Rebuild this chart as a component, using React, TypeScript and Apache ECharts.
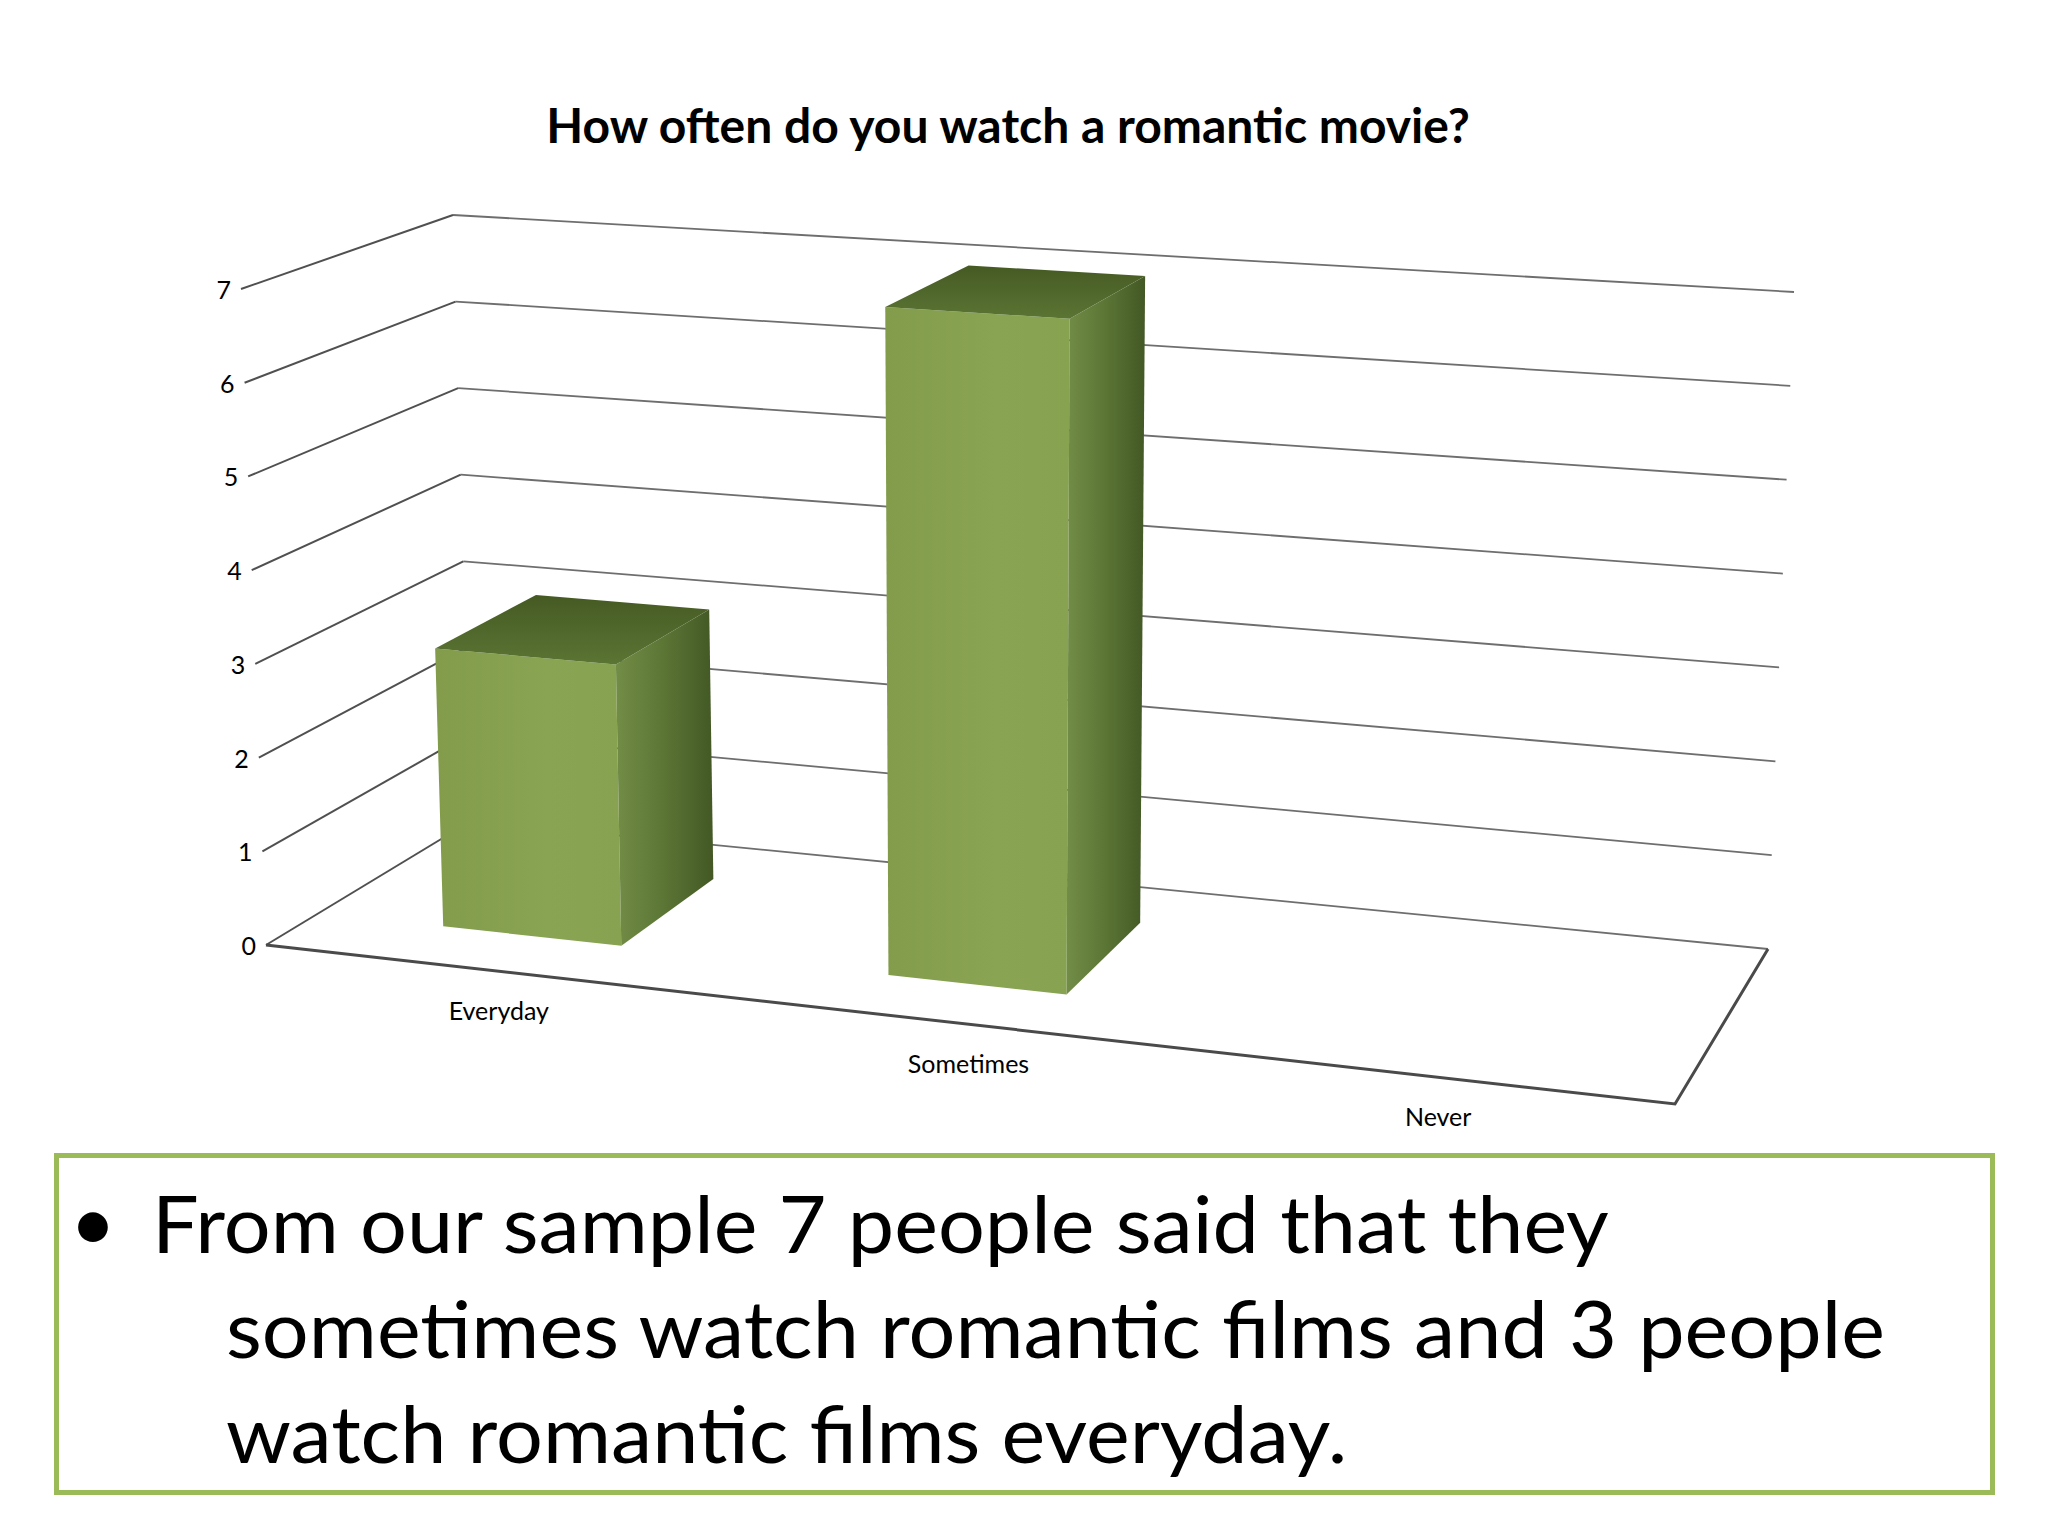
import React, { useEffect, useRef } from 'react';
import * as echarts from 'echarts';

// chart data
const CATEGORIES = ['Everyday', 'Sometimes', 'Never'];
const VALUES = [3, 7, 0];
const Y_TICKS = [0, 1, 2, 3, 4, 5, 6, 7];
const Y_MAX = 7;
const TITLE = 'How often do you watch a romantic movie?';
const NOTE_LINES = [
  'From our sample 7 people said that they',
  'sometimes watch romantic films and 3 people',
  'watch romantic films everyday.',
];

const FONT = 'Lato, "Open Sans", sans-serif';

// hidden grid used as the data space (x: category band, y: value)
const GRID_W = 1000;
const GRID_H = 700;

// corners of the 3D plot box on the page (floor and ceiling, front/back, left/right)
const FLOOR = { fl: [266, 945], fr: [1675, 1104], bl: [471, 821], br: [1768, 949] };
const CEIL = { fl: [241, 289], fr: [1700, 384], bl: [453, 215], br: [1794, 292] };

// bar placement inside the box
const BAR_RATIO = 0.4;
const W_FRONT = 0.26;
const W_BACK = 0.77;
const U_OFFSET = -0.007;
const U_SCALE = 0.968;

const bilerp = (q: any, u: number, w: number) => {
  const a = (1 - u) * (1 - w);
  const b = u * (1 - w);
  const c = (1 - u) * w;
  const d = u * w;
  return [
    a * q.fl[0] + b * q.fr[0] + c * q.bl[0] + d * q.br[0],
    a * q.fl[1] + b * q.fr[1] + c * q.bl[1] + d * q.br[1],
  ];
};

const project = (u: number, v: number, w: number) => {
  const lo = bilerp(FLOOR, u, w);
  const hi = bilerp(CEIL, u, w);
  return [lo[0] + (hi[0] - lo[0]) * v, lo[1] + (hi[1] - lo[1]) * v];
};

const App: React.FC = () => {
  const chartRef = useRef<HTMLDivElement>(null);

  useEffect(() => {
    if (!chartRef.current) return;
    const chart = echarts.init(chartRef.current, null, { renderer: 'svg' });

    const wallsItem = (params: any, api: any) => {
      const tick = api.value(1);
      const y = api.coord([0, tick])[1];
      const v = (GRID_H - y) / GRID_H;
      const p0 = project(0, v, 0);
      const p1 = project(0, v, 1);
      const p2 = project(1, v, 1);
      const children: any[] = [
        {
          type: 'polyline',
          shape: { points: [p1, p2] },
          style: { stroke: '#6e6e6e', lineWidth: 1.8, fill: 'none' },
        },
        {
          type: 'polyline',
          shape: { points: [p0, p1] },
          style: { stroke: '#505050', lineWidth: 2, fill: 'none' },
        },
        {
          type: 'text',
          x: p0[0] - 10,
          y: p0[1],
          style: {
            text: String(tick),
            fill: '#000',
            fontSize: 25,
            fontFamily: FONT,
            align: 'right',
            verticalAlign: 'middle',
          },
        },
      ];
      if (tick === 0) {
        children.push({
          type: 'polyline',
          shape: { points: [project(0, 0, 0), project(1, 0, 0), project(1, 0, 1)] },
          style: { stroke: '#4a4a4a', lineWidth: 3, fill: 'none' },
        });
      }
      return { type: 'group', children };
    };

    const barsItem = (params: any, api: any) => {
      const val = api.value(1);
      if (!val) return { type: 'group', children: [] };
      const top = api.coord([api.value(0), val]);
      const bandW = api.size([1, 0])[0];
      const uc = U_OFFSET + U_SCALE * (top[0] / GRID_W);
      const half = ((bandW * BAR_RATIO) / 2 / GRID_W) * U_SCALE;
      const u0 = uc - half;
      const u1 = uc + half;
      const v = (GRID_H - top[1]) / GRID_H;

      const front = [project(u0, 0, W_FRONT), project(u1, 0, W_FRONT), project(u1, v, W_FRONT), project(u0, v, W_FRONT)];
      const side = [project(u1, 0, W_FRONT), project(u1, 0, W_BACK), project(u1, v, W_BACK), project(u1, v, W_FRONT)];
      const lid = [project(u0, v, W_FRONT), project(u1, v, W_FRONT), project(u1, v, W_BACK), project(u0, v, W_BACK)];

      return {
        type: 'group',
        children: [
          {
            type: 'polygon',
            shape: { points: front },
            style: {
              fill: new echarts.graphic.LinearGradient(0, 0, 1, 0, [
                { offset: 0, color: '#829c4b' },
                { offset: 0.6, color: '#89a452' },
                { offset: 1, color: '#87a250' },
              ]),
            },
          },
          {
            type: 'polygon',
            shape: { points: side },
            style: {
              fill: new echarts.graphic.LinearGradient(0, 0, 1, 0, [
                { offset: 0, color: '#728d46' },
                { offset: 0.5, color: '#5b7535' },
                { offset: 1, color: '#435825' },
              ]),
            },
          },
          {
            type: 'polygon',
            shape: { points: lid },
            style: {
              fill: new echarts.graphic.LinearGradient(0, 0, 0, 1, [
                { offset: 0, color: '#455a23' },
                { offset: 1, color: '#5b7534' },
              ]),
            },
          },
        ],
      };
    };

    const labelsItem = (params: any, api: any) => {
      const x = api.coord([api.value(0), 0])[0];
      const p = project(x / GRID_W, 0, 0);
      return {
        type: 'text',
        x: p[0] - 2,
        y: p[1] + 38,
        style: {
          text: CATEGORIES[api.value(0)],
          fill: '#000',
          fontSize: 25,
          fontFamily: FONT,
          align: 'center',
          verticalAlign: 'middle',
        },
      };
    };

    const option = {
      animation: false,
      backgroundColor: '#ffffff',
      grid: { left: 0, top: 0, width: GRID_W, height: GRID_H, show: false },
      xAxis: { type: 'category', data: CATEGORIES, show: false },
      yAxis: { type: 'value', min: 0, max: Y_MAX, show: false },
      series: [
        {
          type: 'custom',
          name: 'walls',
          clip: false,
          silent: true,
          data: Y_TICKS.map((t) => [0, t]),
          renderItem: wallsItem,
        },
        {
          type: 'custom',
          name: 'bars',
          clip: false,
          data: VALUES.map((v, i) => [i, v]),
          renderItem: barsItem,
        },
        {
          type: 'custom',
          name: 'labels',
          clip: false,
          silent: true,
          data: CATEGORIES.map((c, i) => [i, 0]),
          renderItem: labelsItem,
        },
      ],
      graphic: [
        {
          type: 'text',
          x: 1008,
          y: 124,
          style: {
            text: TITLE,
            fill: '#000',
            fontSize: 48,
            fontWeight: 'bold',
            fontFamily: FONT,
            align: 'center',
            verticalAlign: 'middle',
          },
        },
        {
          type: 'rect',
          shape: { x: 56.5, y: 1155.5, width: 1936, height: 337 },
          style: { fill: 'none', stroke: '#9bbb59', lineWidth: 5 },
        },
        {
          type: 'text',
          x: 93,
          y: 1220,
          style: {
            text: '•',
            fill: '#000',
            fontSize: 80,
            fontFamily: FONT,
            align: 'center',
            verticalAlign: 'middle',
          },
        },
        ...NOTE_LINES.map((line, i) => ({
          type: 'text',
          x: i === 0 ? 152 : 226,
          y: 1222 + i * 105,
          scaleX: 1.035,
          style: {
            text: line,
            fill: '#000',
            fontSize: 80,
            fontFamily: FONT,
            align: 'left',
            verticalAlign: 'middle',
          },
        })),
      ],
    } as any;

    chart.setOption(option);

    return () => {
      chart.dispose();
    };
  }, []);

  return (
    <div
      ref={chartRef}
      style={{ position: 'fixed', left: 0, top: 0, width: 2048, height: 1536, background: '#fff' }}
    />
  );
};

export default App;
